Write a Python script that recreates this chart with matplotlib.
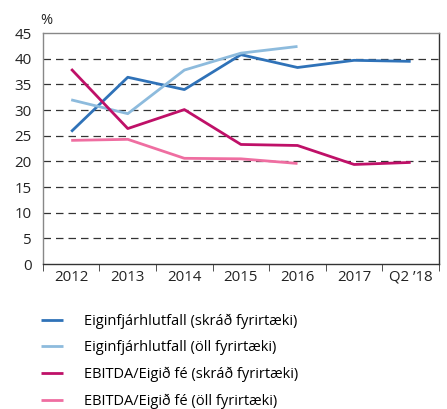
import matplotlib
matplotlib.use("Agg")
import matplotlib.pyplot as plt
import numpy as np

plt.rcParams["font.family"] = ["Open Sans", "DejaVu Sans"]

# Data
CATEGORIES = ["2012", "2013", "2014", "2015", "2016", "2017", "Q2 \u201918"]
EIG_SKRAD = [25.8, 36.4, 34.0, 40.8, 38.3, 39.7, 39.5]
EIG_OLL = [32.0, 29.3, 37.8, 41.1, 42.4]
EBITDA_SKRAD = [38.0, 26.4, 30.1, 23.3, 23.1, 19.4, 19.8]
EBITDA_OLL = [24.1, 24.3, 20.6, 20.5, 19.6]

SERIES = [
    ("Eiginfjárhlutfall (skráð fyrirtæki)", EIG_SKRAD, "#2f72b8"),
    ("Eiginfjárhlutfall (öll fyrirtæki)", EIG_OLL, "#8dbbdd"),
    ("EBITDA/Eigið fé (skráð fyrirtæki)", EBITDA_SKRAD, "#bf1068"),
    ("EBITDA/Eigið fé (öll fyrirtæki)", EBITDA_OLL, "#ef6ea1"),
]

fig = plt.figure(figsize=(4.47, 4.09), dpi=100)
ax = fig.add_axes([0.096, 0.3545, 0.886, 0.5645])

x = np.arange(len(CATEGORIES))
handles = []
for label, vals, color in SERIES:
    (h,) = ax.plot(x[:len(vals)], vals, color=color, lw=2.0, label=label,
                   solid_capstyle="butt")
    handles.append(h)

ax.set_xlim(-0.5, len(CATEGORIES) - 0.5)
ax.set_ylim(0, 45)
ax.set_yticks(range(0, 46, 5))
for v in range(5, 45, 5):
    ax.axhline(v, color="#333333", lw=0.9, dashes=(6, 4), zorder=0)

ax.set_xticks(x)
ax.set_xticklabels(CATEGORIES)
ax.set_xticks(np.arange(-0.5, len(CATEGORIES), 1), minor=True)
ax.tick_params(axis="x", which="major", length=0, pad=4, labelsize=10.8, colors="#222222")
ax.tick_params(axis="x", which="minor", length=5, direction="out", color="#333333")
ax.tick_params(axis="y", length=0, pad=8, labelsize=10.8, colors="#222222")

ax.spines["top"].set_color("#888888")
ax.spines["left"].set_color("#888888")
ax.spines["right"].set_color("#333333")
ax.spines["bottom"].set_color("#333333")
for s in ax.spines.values():
    s.set_linewidth(1.0)

fig.text(0.103, 0.951, "%", fontsize=10.5, color="#222222", ha="center", va="center")

fig.legend(handles=handles, loc="upper left", bbox_to_anchor=(0.0795, 0.247),
           frameon=False, fontsize=10.5, handlelength=1.5, handletextpad=1.44,
           labelspacing=0.78, borderaxespad=0)

fig.savefig("out.png", dpi=100)
